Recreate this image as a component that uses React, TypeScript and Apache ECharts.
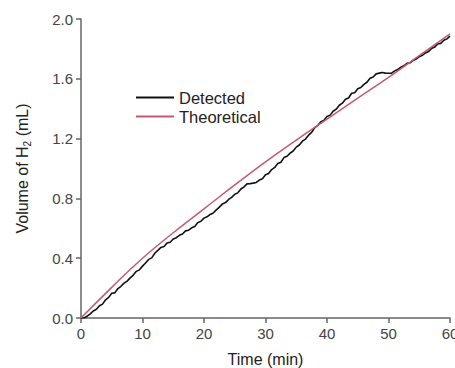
import React, { useEffect, useRef } from "react";
import * as echarts from "echarts";

const detectedTime = [
  0, 0.5, 1, 1.5, 2, 2.5, 3, 3.5, 4, 4.5, 5, 5.5, 6, 6.5, 7, 7.5, 8, 8.5, 9, 9.5,
  10, 10.5, 11, 11.5, 12, 12.5, 13, 13.5, 14, 14.5, 15, 15.5, 16, 16.5, 17, 17.5, 18, 18.5, 19, 19.5,
  20, 20.5, 21, 21.5, 22, 22.5, 23, 23.5, 24, 24.5, 25, 25.5, 26, 26.5, 27, 27.5, 28, 28.5, 29, 29.5,
  30, 30.5, 31, 31.5, 32, 32.5, 33, 33.5, 34, 34.5, 35, 35.5, 36, 36.5, 37, 37.5, 38, 38.5, 39, 39.5,
  40, 40.5, 41, 41.5, 42, 42.5, 43, 43.5, 44, 44.5, 45, 45.5, 46, 46.5, 47, 47.5, 48, 48.5, 49, 49.5,
  50, 50.5, 51, 51.5, 52, 52.5, 53, 53.5, 54, 54.5, 55, 55.5, 56, 56.5, 57, 57.5, 58, 58.5, 59, 59.5, 60,
];
const detectedValue = [
  0, 0.0, 0.012, 0.028, 0.047, 0.058, 0.082, 0.093, 0.122, 0.138, 0.166, 0.168, 0.197, 0.212, 0.233, 0.247, 0.268, 0.287, 0.312, 0.322,
  0.347, 0.368, 0.392, 0.402, 0.433, 0.452, 0.472, 0.478, 0.502, 0.507, 0.528, 0.537, 0.553, 0.562, 0.583, 0.587, 0.603, 0.612, 0.638, 0.647,
  0.668, 0.677, 0.693, 0.702, 0.723, 0.742, 0.763, 0.772, 0.793, 0.807, 0.828, 0.837, 0.863, 0.877, 0.897, 0.899, 0.902, 0.907, 0.923, 0.932,
  0.958, 0.967, 0.993, 1.007, 1.033, 1.042, 1.073, 1.082, 1.103, 1.117, 1.143, 1.157, 1.183, 1.197, 1.223, 1.242, 1.273, 1.287, 1.313, 1.322,
  1.348, 1.357, 1.383, 1.397, 1.423, 1.437, 1.463, 1.472, 1.503, 1.507, 1.533, 1.542, 1.563, 1.577, 1.603, 1.612, 1.633, 1.638, 1.642, 1.638,
  1.637, 1.638, 1.653, 1.662, 1.678, 1.687, 1.703, 1.707, 1.723, 1.732, 1.748, 1.757, 1.773, 1.782, 1.803, 1.812, 1.833, 1.837, 1.858, 1.867, 1.885,
];

const theoreticalTime = [0, 5, 10, 15, 20, 25, 30, 35, 40, 45, 50, 55, 60];
const theoreticalValue = [0, 0.205, 0.4, 0.57, 0.73, 0.89, 1.045, 1.19, 1.33, 1.47, 1.61, 1.755, 1.9];

const seriesNames = ["Detected", "Theoretical"];
const font = "'Liberation Sans', Arial, sans-serif";

export default function App() {
  const ref = useRef<HTMLDivElement>(null);
  useEffect(() => {
    document.body.style.margin = "0";
    const chart = echarts.init(ref.current!, null, { renderer: "svg" });
    const axisColor = "#666";
    chart.setOption({
      animation: false,
      backgroundColor: "#fff",
      textStyle: { fontFamily: font },
      grid: { left: 81, right: 5, top: 19, bottom: 50, outerBoundsMode: "none", containLabel: false },
      legend: {
        orient: "vertical",
        left: 131,
        top: 84,
        itemWidth: 38,
        itemHeight: 2,
        itemGap: 2,
        icon: "rect",
        data: seriesNames,
        textStyle: { fontSize: 16.5, color: "#222", fontFamily: font },
      },
      xAxis: {
        type: "value",
        min: 0,
        max: 60,
        interval: 10,
        name: "Time (min)",
        nameLocation: "middle",
        nameGap: 33,
        nameTextStyle: { fontSize: 16, color: "#222", fontFamily: font },
        axisLine: { lineStyle: { color: axisColor, width: 1.5 } },
        axisTick: { length: 5, lineStyle: { color: axisColor, width: 1.5 } },
        axisLabel: { fontSize: 15, color: "#444", margin: 8 },
        splitLine: { show: false },
      },
      yAxis: {
        type: "value",
        min: 0,
        max: 2,
        interval: 0.4,
        name: "Volume of H{sub|2} (mL)",
        nameLocation: "middle",
        nameGap: 49,
        nameTextStyle: {
          fontSize: 16,
          color: "#222",
          fontFamily: font,
          rich: { sub: { fontSize: 10, verticalAlign: "bottom", padding: [9, 0, 0, 0], color: "#222", fontFamily: font } },
        },
        axisLine: { show: true, lineStyle: { color: axisColor, width: 1.5 } },
        axisTick: { show: true, length: 5, lineStyle: { color: axisColor, width: 1.5 } },
        axisLabel: { fontSize: 15, color: "#444", margin: 8, formatter: (v: number) => v.toFixed(1) },
        splitLine: { show: false },
      },
      series: [
        {
          name: seriesNames[0],
          type: "line",
          showSymbol: false,
          symbol: "none",
          data: detectedTime.map((t, i) => [t, detectedValue[i]]),
          lineStyle: { color: "#111", width: 1.6 },
          itemStyle: { color: "#111" },
        },
        {
          name: seriesNames[1],
          type: "line",
          showSymbol: false,
          symbol: "none",
          smooth: true,
          data: theoreticalTime.map((t, i) => [t, theoreticalValue[i]]),
          lineStyle: { color: "#c45a72", width: 1.5 },
          itemStyle: { color: "#c45a72" },
        },
      ],
    });
    return () => chart.dispose();
  }, []);
  return <div ref={ref} style={{ width: 455, height: 368 }} />;
}
